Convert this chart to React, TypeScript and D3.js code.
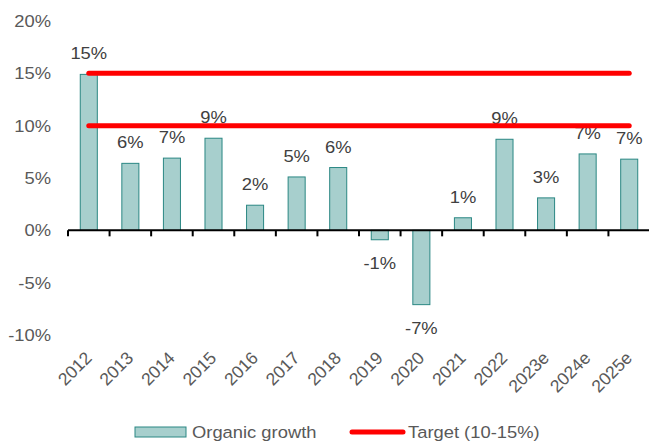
import React from 'react';
import * as d3 from 'd3';

const years = ['2012', '2013', '2014', '2015', '2016', '2017', '2018', '2019', '2020', '2021', '2022', '2023e', '2024e', '2025e'];
const growth = [14.9, 6.4, 6.9, 8.8, 2.4, 5.1, 6.0, -0.9, -7.1, 1.2, 8.7, 3.1, 7.3, 6.8];
const targetLow = 10;
const targetHigh = 15;
const yTicks = [-10, -5, 0, 5, 10, 15, 20];

const W = 649;
const H = 443;
const font = '"Liberation Sans", Arial, sans-serif';

// text a bit wider than tall, like the source image
function T({ x, y, anchor, fill, children, dy }: any) {
    return (
        <text
            transform={`translate(${x},${y}) scale(1.08,1)`}
            textAnchor={anchor || 'start'}
            fontSize={17}
            fill={fill || '#595959'}
            dy={dy}
        >
            {children}
        </text>
    );
}

export default function App() {
    const x = d3.scaleBand<string>().domain(years).range([68, 650]).padding(0);
    const y = d3.scaleLinear().domain([-10, 20]).range([335, 21]);
    const bw = x.bandwidth() * 0.41;
    const center = (d: string) => (x(d) as number) + x.bandwidth() / 2;

    const first = center(years[0]);
    const last = center(years[years.length - 1]);

    return (
        <svg width={W} height={H} style={{ position: 'absolute', left: 0, top: 0 }} fontFamily={font}>
            <rect width={W} height={H} fill="#fff" />
            {yTicks.map((t) => (
                <T key={t} x={51} y={y(t)} dy="0.35em" anchor="end">
                    {t}%
                </T>
            ))}
            {years.map((d, i) => {
                const v = growth[i];
                const top = y(Math.max(0, v));
                const h = Math.abs(y(v) - y(0));
                return (
                    <g key={d}>
                        <rect x={center(d) - bw / 2} y={top} width={bw} height={h} fill="#a7cfcd" stroke="#2a8783" strokeWidth={1} />
                        <T x={center(d)} y={v >= 0 ? y(v) - 15 : y(v) + 29} anchor="middle" fill="#404040">
                            {Math.round(v)}%
                        </T>
                        <text
                            transform={`translate(${center(d) + 4},${359}) rotate(-45)`}
                            textAnchor="end"
                            fontSize={17.5}
                            fill="#595959"
                        >
                            {d}
                        </text>
                    </g>
                );
            })}
            <line x1={68} x2={650} y1={y(0)} y2={y(0)} stroke="#000" strokeWidth={2} />
            {d3.range(years.length + 1).map((i) => {
                const xx = 68 + i * x.bandwidth();
                return <line key={i} x1={xx} x2={xx} y1={y(0)} y2={y(0) + 6} stroke="#000" strokeWidth={2} />;
            })}
            {[targetHigh, targetLow].map((t) => (
                <line key={t} x1={first} x2={last} y1={y(t)} y2={y(t)} stroke="#ff0000" strokeWidth={5} strokeLinecap="round" />
            ))}
            <g>
                <rect x={135} y={427} width={51} height={10} fill="#a7cfcd" stroke="#2a8783" strokeWidth={1} />
                <T x={192} y={438}>Organic growth</T>
                <line x1={352} x2={403} y1={432} y2={432} stroke="#ff0000" strokeWidth={5} strokeLinecap="round" />
                <T x={408} y={438}>Target (10-15%)</T>
            </g>
        </svg>
    );
}
